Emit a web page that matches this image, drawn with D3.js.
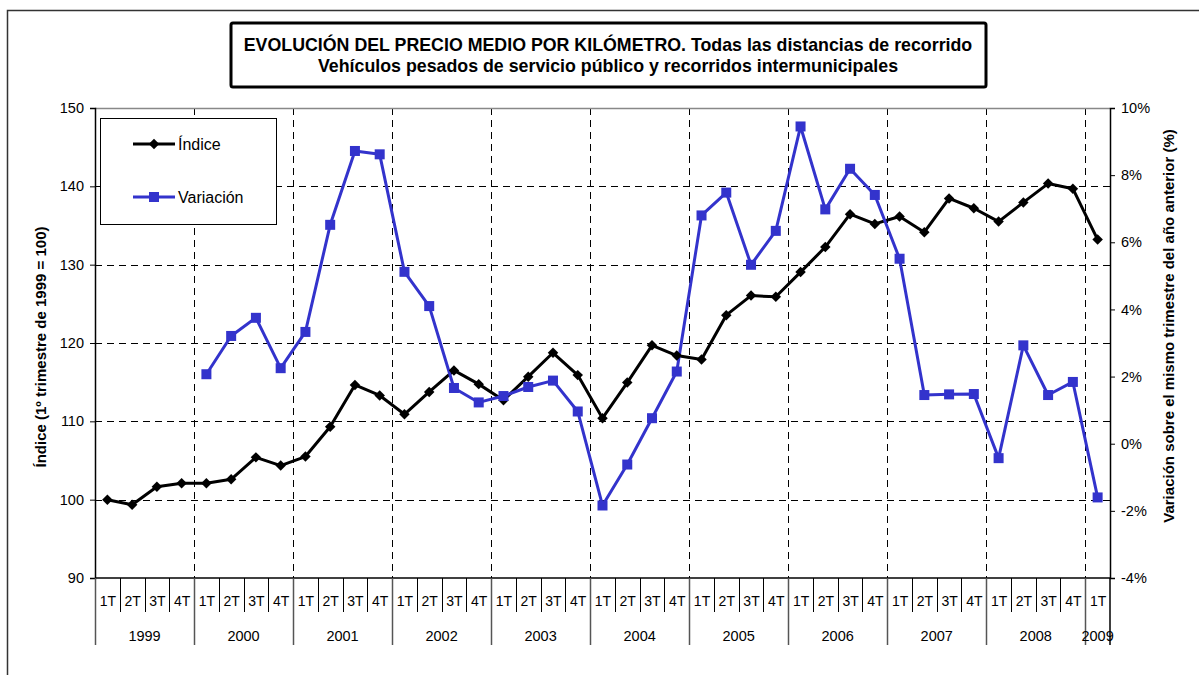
<!DOCTYPE html>
<html>
<head>
<meta charset="utf-8">
<script src="https://cdn.jsdelivr.net/npm/d3@7"></script>
<style>
  body { margin: 0; background: #fff; }
  svg { font-family: "Liberation Sans", Arial, sans-serif; }
</style>
</head>
<body>
<div id="chart"></div>
<script>
// data
const years = ['1999', '2000', '2001', '2002', '2003', '2004', '2005', '2006', '2007', '2008', '2009'];
const quarterLabels = ['1T', '2T', '3T', '4T'];

const indice = [
  100.0, 99.35, 101.65, 102.1,
  102.1, 102.6, 105.4, 104.35,
  105.5, 109.3, 114.65, 113.3,
  110.9, 113.75, 116.5, 114.75,
  112.7, 115.7, 118.75, 115.9,
  110.4, 114.95, 119.7, 118.4,
  117.9, 123.55, 126.05, 125.9,
  129.05, 132.25, 136.45, 135.2,
  136.15, 134.15, 138.45, 137.2,
  135.5, 137.95, 140.35, 139.7,
  133.2
];

const variacion = [
  null, null, null, null,
  2.07, 3.21, 3.75, 2.25,
  3.33, 6.52, 8.72, 8.62,
  5.12, 4.10, 1.66, 1.23,
  1.42, 1.69, 1.88, 0.96,
  -1.84, -0.62, 0.76, 2.15,
  6.80, 7.48, 5.33, 6.34,
  9.45, 6.98, 8.19, 7.41,
  5.51, 1.45, 1.47, 1.48,
  -0.43, 2.93, 1.45, 1.84,
  -1.60
];

const leftTicks = [90, 100, 110, 120, 130, 140, 150];
const rightTicks = [-4, -2, 0, 2, 4, 6, 8, 10];

const titleLines = [
  'EVOLUCIÓN DEL PRECIO MEDIO POR KILÓMETRO. Todas las distancias de recorrido',
  'Vehículos pesados de servicio público y recorridos intermunicipales'
];

// build period list: every quarter up to 2009 1T
const periods = [];
years.forEach(y => quarterLabels.forEach(q => periods.push({ year: y, q: q })));
periods.length = indice.length;
periods.forEach((p, i) => { p.id = i; p.indice = indice[i]; p.variacion = variacion[i]; });

const W = 1199, H = 675;
const plot = { left: 95, right: 1110, top: 108, bottom: 578 };
const blue = '#3333CC';
const font = '"Liberation Sans", Arial, sans-serif';

const svg = d3.select('#chart').append('svg')
    .attr('width', W)
    .attr('height', H);

// outer frame of the chart object (right / bottom run off the page)
svg.append('rect')
    .attr('x', 7.5).attr('y', 10.5)
    .attr('width', 1200).attr('height', 700)
    .attr('fill', 'none')
    .attr('stroke', '#333')
    .attr('stroke-width', 1.5);

// scales
const x = d3.scaleBand()
    .domain(periods.map(p => p.id))
    .range([plot.left, plot.right]);
const yL = d3.scaleLinear().domain([90, 150]).range([plot.bottom, plot.top]);
const yR = d3.scaleLinear().domain([-4, 10]).range([plot.bottom, plot.top]);
const cx = i => x(i) + x.bandwidth() / 2;

// gridlines
const grid = svg.append('g').attr('class', 'grid')
    .attr('stroke', '#000')
    .attr('stroke-width', 1)
    .attr('stroke-dasharray', '7,5');

grid.selectAll('.hgrid')
  .data(leftTicks.filter(t => t > 90 && t < 150))
  .join('line')
    .attr('class', 'hgrid')
    .attr('x1', plot.left).attr('x2', plot.right)
    .attr('y1', d => Math.round(yL(d)) + 0.5)
    .attr('y2', d => Math.round(yL(d)) + 0.5);

const yearStarts = periods.filter(p => p.q === '1T' && p.id > 0);
grid.selectAll('.vgrid')
  .data(yearStarts)
  .join('line')
    .attr('class', 'vgrid')
    .attr('x1', d => Math.round(x(d.id)) + 0.5)
    .attr('x2', d => Math.round(x(d.id)) + 0.5)
    .attr('y1', plot.top).attr('y2', plot.bottom);

// top border of plot area
svg.append('line')
    .attr('x1', plot.left).attr('x2', plot.right)
    .attr('y1', plot.top + 0.5).attr('y2', plot.top + 0.5)
    .attr('stroke', '#888').attr('stroke-width', 1.5);

// left axis
const leftAxis = svg.append('g')
    .attr('transform', `translate(${plot.left},0)`)
    .call(d3.axisLeft(yL).tickValues(leftTicks).tickSize(5).tickPadding(6));
leftAxis.select('.domain').attr('stroke-width', 1.5);
leftAxis.selectAll('text').attr('font-size', 14.5).attr('fill', '#000')
    .attr('font-family', font);

// right axis
const rightAxis = svg.append('g')
    .attr('transform', `translate(${plot.right},0)`)
    .call(d3.axisRight(yR).tickValues(rightTicks).tickSize(5).tickPadding(6)
      .tickFormat(d => d + '%'));
rightAxis.select('.domain').attr('stroke-width', 1.5);
rightAxis.selectAll('text').attr('font-size', 14.5).attr('fill', '#000')
    .attr('font-family', font);

// right axis line extends through the category labels
svg.append('line')
    .attr('x1', plot.right).attr('x2', plot.right)
    .attr('y1', plot.bottom).attr('y2', 645)
    .attr('stroke', '#000').attr('stroke-width', 1.5);

// bottom axis line
svg.append('line')
    .attr('x1', plot.left).attr('x2', plot.right)
    .attr('y1', plot.bottom).attr('y2', plot.bottom)
    .attr('stroke', '#000').attr('stroke-width', 1.5);

// quarter separators and labels
const cat = svg.append('g').attr('class', 'categories');
cat.selectAll('.qsep')
  .data(periods.filter(p => p.q !== '1T'))
  .join('line')
    .attr('class', 'qsep')
    .attr('x1', d => Math.round(x(d.id)) + 0.5)
    .attr('x2', d => Math.round(x(d.id)) + 0.5)
    .attr('y1', plot.bottom).attr('y2', 612)
    .attr('stroke', '#000').attr('stroke-width', 1);

cat.selectAll('.ysep')
  .data(periods.filter(p => p.q === '1T'))
  .join('line')
    .attr('class', 'ysep')
    .attr('x1', d => Math.round(x(d.id)) + 0.5)
    .attr('x2', d => Math.round(x(d.id)) + 0.5)
    .attr('y1', plot.bottom).attr('y2', 645)
    .attr('stroke', '#555').attr('stroke-width', 1.5);

cat.selectAll('.qlabel')
  .data(periods)
  .join('text')
    .attr('class', 'qlabel')
    .attr('x', d => cx(d.id) + 0.5)
    .attr('y', 606)
    .attr('text-anchor', 'middle')
    .attr('font-size', 14)
    .text(d => d.q);

cat.selectAll('.ylabel')
  .data(years)
  .join('text')
    .attr('class', 'ylabel')
    .attr('x', y => {
      const ids = periods.filter(p => p.year === y).map(p => p.id);
      return (x(ids[0]) + x(ids[ids.length - 1]) + x.bandwidth()) / 2;
    })
    .attr('y', 641)
    .attr('text-anchor', 'middle')
    .attr('font-size', 14.5)
    .text(d => d);

// lines
const lineIndice = d3.line()
    .x(d => cx(d.id))
    .y(d => yL(d.indice));

const lineVar = d3.line()
    .defined(d => d.variacion !== null)
    .x(d => cx(d.id))
    .y(d => yR(d.variacion));

svg.append('path')
    .datum(periods)
    .attr('d', lineIndice)
    .attr('fill', 'none')
    .attr('stroke', '#000')
    .attr('stroke-width', 3)
    .attr('stroke-linejoin', 'round');

svg.append('path')
    .datum(periods)
    .attr('d', lineVar)
    .attr('fill', 'none')
    .attr('stroke', blue)
    .attr('stroke-width', 3)
    .attr('stroke-linejoin', 'round');

// markers
const diamond = d3.symbol().type(d3.symbolDiamond2).size(70);
svg.selectAll('.dIndice')
  .data(periods)
  .join('path')
    .attr('class', 'dIndice')
    .attr('transform', d => `translate(${cx(d.id)},${yL(d.indice)})`)
    .attr('d', diamond)
    .attr('fill', '#000');

svg.selectAll('.sVar')
  .data(periods.filter(p => p.variacion !== null))
  .join('rect')
    .attr('class', 'sVar')
    .attr('x', d => cx(d.id) - 5)
    .attr('y', d => yR(d.variacion) - 5)
    .attr('width', 10).attr('height', 10)
    .attr('fill', blue);

// legend
const legend = svg.append('g').attr('transform', 'translate(100,118)');
legend.append('rect')
    .attr('x', 0.5).attr('y', 0.5)
    .attr('width', 176).attr('height', 106)
    .attr('fill', '#fff')
    .attr('stroke', '#000').attr('stroke-width', 1);

const legendItems = [
  { label: 'Índice', color: '#000', shape: 'diamond', y: 26 },
  { label: 'Variación', color: blue, shape: 'square', y: 79 }
];
legendItems.forEach(item => {
  legend.append('line')
      .attr('x1', 33).attr('x2', 75)
      .attr('y1', item.y).attr('y2', item.y)
      .attr('stroke', item.color).attr('stroke-width', 3);
  if (item.shape === 'diamond') {
    legend.append('path')
        .attr('transform', `translate(54,${item.y})`)
        .attr('d', diamond)
        .attr('fill', item.color);
  } else {
    legend.append('rect')
        .attr('x', 49).attr('y', item.y - 5)
        .attr('width', 10).attr('height', 10)
        .attr('fill', item.color);
  }
  legend.append('text')
      .attr('x', 78).attr('y', item.y + 5.5)
      .attr('font-size', 16)
      .text(item.label);
});

// axis titles
svg.append('text')
    .attr('transform', `translate(46,${(plot.top + plot.bottom) / 2 + 4}) rotate(-90)`)
    .attr('text-anchor', 'middle')
    .attr('font-size', 15)
    .attr('font-weight', 'bold')
    .text('Índice (1º trimestre de 1999 = 100)');

svg.append('text')
    .attr('transform', `translate(1174,${(plot.top + plot.bottom) / 2 - 17}) rotate(-90)`)
    .attr('text-anchor', 'middle')
    .attr('font-size', 15)
    .attr('font-weight', 'bold')
    .text('Variación sobre el mismo trimestre del año anterior (%)');

// title box
svg.append('rect')
    .attr('x', 231).attr('y', 23)
    .attr('width', 755).attr('height', 64)
    .attr('rx', 2)
    .attr('fill', '#fff')
    .attr('stroke', '#000').attr('stroke-width', 3);

svg.selectAll('.title')
  .data(titleLines)
  .join('text')
    .attr('class', 'title')
    .attr('x', 608)
    .attr('y', (d, i) => 51 + i * 21)
    .attr('text-anchor', 'middle')
    .attr('font-size', 17.8)
    .attr('font-weight', 'bold')
    .text(d => d);
</script>
</body>
</html>
